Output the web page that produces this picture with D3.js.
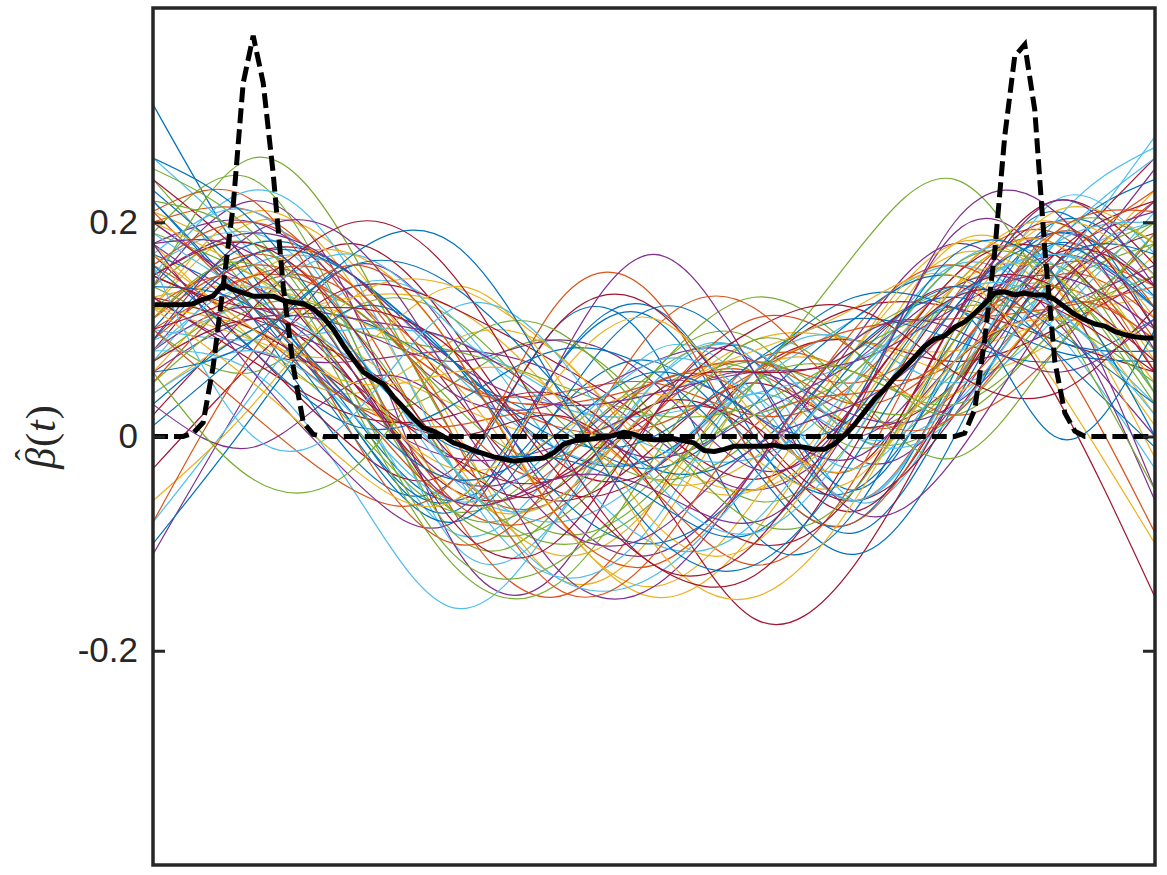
<!DOCTYPE html>
<html>
<head>
<meta charset="utf-8">
<script src="https://cdn.jsdelivr.net/npm/d3@7"></script>
<style>
    body { margin: 0; background: #fff; }
    svg { display: block; }
</style>
</head>
<body>
<svg width="1167" height="875"></svg>
<script>
// knots (t) where each estimated curve was read off
var knotT = [0, 0.1, 0.2, 0.3, 0.4, 0.5, 0.6, 0.7, 0.8, 0.9, 1.0];

// the thin coloured estimates, one row per curve
var curveValues = [
    [0.31, 0.15, 0.02, -0.06, 0.02, 0.07, -0.01, -0.05, 0.07, 0.18, 0.12],
    [0.20, 0.21, 0.12, -0.03, -0.06, 0.03, 0.06, 0.01, 0.04, 0.14, 0.22],
    [0.12, 0.20, 0.16, 0.01, -0.13, -0.09, 0.05, 0.09, 0.06, 0.09, 0.17],
    [-0.11, 0.05, 0.16, 0.09, -0.06, -0.11, -0.03, 0.09, 0.18, 0.11, 0.00],
    [0.24, 0.13, 0.03, 0.05, 0.09, 0.02, -0.06, 0.00, 0.14, 0.17, 0.04],
    [0.16, 0.19, 0.09, -0.10, -0.08, 0.05, 0.07, -0.06, 0.04, 0.20, 0.27],
    [0.08, 0.17, 0.15, 0.04, -0.05, -0.03, 0.06, 0.09, 0.07, 0.10, 0.15],
    [0.22, 0.11, -0.02, -0.04, 0.10, 0.08, -0.09, -0.07, 0.10, 0.21, 0.10],
    [0.05, 0.14, 0.13, 0.02, -0.04, 0.03, 0.11, 0.08, 0.02, 0.08, 0.19],
    [0.18, 0.09, 0.04, 0.09, 0.08, -0.02, -0.05, 0.05, 0.18, 0.14, -0.02],
    [0.14, 0.22, 0.12, -0.10, -0.13, 0.02, 0.08, -0.02, 0.03, 0.16, 0.21],
    [0.10, 0.06, 0.12, 0.11, 0.02, -0.04, 0.00, 0.09, 0.14, 0.16, 0.08],
    [0.26, 0.17, 0.04, -0.09, -0.03, 0.08, 0.04, -0.06, 0.06, 0.22, 0.17],
    [0.02, 0.12, 0.18, 0.10, -0.02, -0.03, 0.06, 0.12, 0.12, 0.09, 0.06],
    [0.17, 0.12, 0.01, -0.07, 0.06, 0.12, 0.00, -0.09, 0.03, 0.18, 0.24],
    [0.09, 0.15, 0.12, 0.05, 0.04, 0.05, 0.02, 0.05, 0.15, 0.19, 0.09],
    [0.21, 0.16, 0.08, 0.03, 0.00, 0.03, 0.09, 0.09, 0.08, 0.11, 0.13],
    [0.13, 0.08, 0.07, 0.08, 0.06, 0.00, -0.05, 0.01, 0.12, 0.19, 0.14],
    [0.19, 0.24, 0.09, -0.09, -0.07, 0.06, 0.09, 0.01, 0.06, 0.14, 0.18],
    [0.07, 0.16, 0.15, 0.06, -0.01, -0.02, 0.05, 0.11, 0.16, 0.10, -0.03],
    [0.15, 0.11, 0.07, 0.00, -0.06, -0.01, 0.05, 0.01, 0.05, 0.16, 0.26],
    [0.23, 0.14, 0.01, -0.06, 0.06, 0.11, -0.02, -0.08, 0.06, 0.20, 0.15],
    [0.11, 0.17, 0.10, -0.07, -0.15, -0.06, 0.07, 0.06, 0.07, 0.15, 0.11],
    [0.04, 0.10, 0.13, 0.12, 0.04, -0.04, -0.02, 0.08, 0.17, 0.13, 0.01],
    [0.18, 0.20, 0.13, 0.04, 0.03, 0.07, 0.07, 0.00, 0.09, 0.17, 0.12],
    [0.14, 0.09, 0.01, -0.07, -0.02, 0.06, 0.08, 0.00, 0.02, 0.12, 0.20],
    [-0.08, 0.04, 0.14, 0.11, -0.01, -0.10, -0.08, 0.05, 0.16, 0.12, 0.03],
    [0.20, 0.13, 0.05, -0.02, -0.04, 0.02, 0.01, -0.03, 0.11, 0.22, 0.16],
    [0.10, 0.18, 0.15, 0.07, -0.01, -0.02, 0.06, 0.13, 0.12, 0.08, 0.07],
    [0.16, 0.10, 0.03, 0.01, 0.02, -0.05, -0.12, -0.04, 0.13, 0.18, 0.06],
    [0.12, 0.21, 0.14, -0.02, -0.11, -0.06, 0.06, 0.06, 0.04, 0.13, 0.23],
    [0.06, 0.11, 0.10, 0.07, 0.09, 0.05, -0.03, 0.03, 0.19, 0.15, -0.05],
    [0.25, 0.19, 0.06, -0.07, -0.05, 0.04, 0.06, -0.01, 0.05, 0.15, 0.20],
    [0.09, 0.13, 0.17, 0.10, 0.03, 0.02, 0.04, 0.07, 0.13, 0.17, 0.12],
    [0.17, 0.08, -0.01, -0.03, 0.10, 0.12, 0.01, -0.06, 0.02, 0.14, 0.19],
    [0.03, 0.10, 0.11, 0.06, 0.01, -0.03, 0.03, 0.11, 0.15, 0.08, -0.01],
    [0.21, 0.22, 0.08, -0.06, -0.07, 0.02, 0.07, 0.03, 0.08, 0.16, 0.14],
    [0.13, 0.14, 0.11, 0.05, -0.07, -0.15, -0.09, 0.04, 0.15, 0.20, 0.11],
    [0.08, 0.12, 0.05, -0.04, -0.02, 0.05, 0.02, -0.02, 0.07, 0.12, 0.16],
    [0.19, 0.15, 0.10, 0.08, 0.05, 0.02, 0.03, 0.08, 0.12, 0.11, 0.05],
    [0.15, 0.23, 0.15, -0.03, -0.13, -0.08, 0.06, 0.09, 0.05, 0.11, 0.21],
    [-0.03, 0.07, 0.14, 0.12, 0.07, 0.01, -0.04, 0.03, 0.15, 0.17, 0.06],
    [0.22, 0.12, 0.00, -0.08, 0.02, 0.12, 0.06, -0.05, 0.08, 0.19, 0.13],
    [0.11, 0.16, 0.12, 0.05, 0.03, 0.05, 0.07, 0.05, 0.10, 0.14, 0.09],
    [0.06, 0.15, 0.17, 0.08, -0.07, -0.14, -0.06, 0.08, 0.18, 0.14, 0.02],
    [0.18, 0.11, 0.03, -0.02, -0.01, 0.03, 0.06, 0.02, 0.03, 0.13, 0.25],
    [0.14, 0.18, 0.07, -0.07, -0.08, 0.01, 0.07, 0.03, 0.05, 0.19, 0.18],
    [0.10, 0.09, 0.10, 0.09, 0.04, -0.01, -0.02, 0.05, 0.16, 0.16, 0.04],
    [0.24, 0.16, 0.05, -0.05, -0.04, 0.03, 0.00, -0.07, 0.04, 0.17, 0.22],
    [0.01, 0.09, 0.16, 0.14, 0.05, -0.03, -0.01, 0.08, 0.13, 0.09, 0.08],
    [0.16, 0.20, 0.14, 0.06, 0.01, 0.01, 0.06, 0.10, 0.11, 0.12, 0.14],
    [0.12, 0.10, 0.04, -0.03, 0.00, 0.04, -0.02, -0.04, 0.09, 0.21, 0.18],
    [0.20, 0.14, 0.11, 0.09, 0.03, -0.02, 0.02, 0.07, 0.14, 0.12, -0.06],
    [0.07, 0.13, 0.12, 0.03, -0.02, 0.06, 0.13, 0.08, 0.02, 0.10, 0.15],
    [0.17, 0.21, 0.10, -0.04, -0.06, 0.03, 0.04, -0.03, 0.07, 0.18, 0.20],
    [0.13, 0.07, 0.02, 0.02, 0.04, -0.03, -0.10, -0.05, 0.11, 0.20, 0.10],
    [0.09, 0.17, 0.15, 0.07, 0.00, 0.00, 0.07, 0.11, 0.09, 0.07, 0.11],
    [0.21, 0.12, 0.03, -0.06, -0.03, 0.05, 0.03, -0.06, 0.05, 0.16, 0.23],
    [-0.06, 0.03, 0.13, 0.14, 0.08, -0.01, -0.05, 0.02, 0.14, 0.18, 0.07],
    [0.15, 0.19, 0.15, 0.07, 0.03, 0.04, 0.06, 0.07, 0.12, 0.15, 0.10],
    [0.14, 0.26, 0.17, 0.00, -0.09, -0.05, 0.05, 0.06, 0.03, 0.10, 0.18],
    [0.08, 0.06, -0.05, -0.16, -0.08, 0.05, 0.08, 0.00, 0.02, 0.15, 0.20],
    [0.13, 0.10, 0.04, 0.00, 0.02, -0.05, -0.17, -0.12, 0.04, 0.17, 0.14],
    [0.16, 0.08, 0.01, 0.03, 0.08, 0.06, -0.03, -0.11, 0.00, 0.16, 0.17],
    [0.10, 0.02, -0.05, -0.04, 0.12, 0.13, -0.02, -0.08, 0.05, 0.19, 0.12],
    [0.12, 0.09, 0.08, 0.14, 0.06, -0.08, -0.10, 0.02, 0.14, 0.15, 0.05],
    [0.18, 0.06, -0.04, -0.08, 0.06, 0.17, 0.06, -0.07, -0.02, 0.12, 0.22],
    [0.05, 0.12, 0.10, -0.03, -0.10, -0.06, 0.05, 0.17, 0.24, 0.12, -0.05],
    [0.08, 0.14, 0.08, -0.03, -0.08, -0.03, 0.04, 0.00, 0.03, 0.15, 0.28],
    [0.15, 0.18, 0.10, -0.02, -0.05, 0.04, 0.06, 0.08, 0.14, 0.04, -0.15],
    [-0.10, 0.02, 0.12, 0.07, -0.05, -0.10, -0.04, 0.07, 0.14, 0.10, 0.03],
    [-0.08, 0.08, 0.16, 0.08, -0.07, -0.12, -0.03, 0.10, 0.16, 0.08, -0.09],
    [0.20, 0.15, 0.06, -0.05, -0.06, 0.03, 0.08, 0.12, 0.15, 0.05, -0.10],
    [0.03, -0.01, 0.05, 0.02, -0.12, -0.14, -0.03, 0.09, 0.10, 0.06, 0.11],
    [0.11, 0.16, 0.03, -0.12, -0.14, -0.02, 0.09, 0.04, -0.02, 0.08, 0.19],
    [0.19, 0.13, 0.07, -0.03, -0.13, -0.13, -0.04, 0.06, 0.13, 0.17, 0.13],
    [0.07, 0.11, 0.06, -0.08, -0.10, 0.02, 0.10, 0.12, 0.06, 0.04, 0.12],
    [0.14, 0.12, 0.03, -0.04, 0.00, 0.06, 0.02, 0.02, 0.12, 0.00, 0.10],
    [0.12, 0.14, 0.00, -0.10, -0.04, 0.10, 0.12, 0.03, 0.02, 0.12, 0.09],
    [0.17, 0.10, 0.05, 0.06, 0.04, -0.10, -0.15, -0.06, 0.10, 0.20, 0.15],
    [0.09, 0.19, 0.18, 0.05, -0.08, -0.09, -0.01, 0.03, 0.11, 0.22, 0.14],
    [0.22, 0.18, 0.04, -0.11, -0.12, -0.04, 0.02, 0.06, 0.16, 0.15, 0.03],
    [0.04, 0.08, 0.02, -0.06, -0.01, 0.07, 0.03, -0.06, 0.05, 0.18, 0.26],
    [0.15, 0.12, 0.12, 0.08, -0.03, -0.12, -0.13, -0.01, 0.13, 0.14, 0.07],
    [0.26, 0.20, 0.08, -0.01, -0.02, -0.06, -0.09, 0.03, 0.17, 0.15, 0.00],
    [0.10, 0.15, 0.14, 0.00, -0.14, -0.11, 0.01, 0.04, 0.08, 0.19, 0.21],
    [0.12, 0.05, -0.03, -0.06, 0.05, 0.11, 0.02, -0.03, 0.07, 0.11, 0.09],
    [0.18, 0.17, 0.06, -0.06, -0.04, -0.05, -0.08, 0.02, 0.20, 0.21, 0.08],
    [0.06, -0.04, -0.03, 0.08, 0.10, 0.01, -0.08, -0.05, 0.09, 0.14, 0.04],
    [0.16, 0.00, 0.02, 0.12, 0.08, -0.04, -0.09, 0.00, 0.13, 0.12, 0.02],
    [0.10, 0.14, 0.20, 0.15, 0.00, -0.12, -0.10, 0.03, 0.13, 0.12, 0.06],
    [0.06, 0.09, 0.17, 0.18, 0.05, -0.09, -0.12, -0.02, 0.12, 0.18, 0.12]
];

// thick solid line (average of the estimates), sampled every 0.01
var meanValues = [
    0.123, 0.123, 0.123, 0.123, 0.124, 0.128, 0.131, 0.142, 0.137, 0.134,
    0.131, 0.131, 0.131, 0.127, 0.125, 0.124, 0.119, 0.111, 0.100, 0.085,
    0.072, 0.060, 0.054, 0.049, 0.037, 0.027, 0.017, 0.008, 0.005, 0.000,
    -0.006, -0.009, -0.013, -0.016, -0.019, -0.021, -0.023, -0.022, -0.021, -0.020,
    -0.015, -0.007, -0.004, -0.003, -0.002, -0.001, 0.001, 0.004, 0.002, -0.002,
    -0.003, -0.003, -0.002, -0.004, -0.006, -0.013, -0.014, -0.012, -0.009, -0.009,
    -0.009, -0.009, -0.008, -0.010, -0.009, -0.010, -0.012, -0.012, -0.007, 0.001,
    0.011, 0.023, 0.035, 0.044, 0.055, 0.064, 0.074, 0.084, 0.091, 0.094,
    0.102, 0.107, 0.115, 0.124, 0.134, 0.135, 0.132, 0.134, 0.132, 0.132,
    0.128, 0.121, 0.114, 0.109, 0.105, 0.103, 0.098, 0.095, 0.093, 0.092, 0.092
];

// dashed line (true beta), same 0.01 sampling
var trueValues = [
    0, 0, 0, 0, 0.003, 0.013, 0.065, 0.140, 0.215, 0.330,
    0.374, 0.330, 0.245, 0.140, 0.065, 0.013, 0.002, 0, 0, 0,
    0, 0, 0, 0, 0, 0, 0, 0, 0, 0,
    0, 0, 0, 0, 0, 0, 0, 0, 0, 0,
    0, 0, 0, 0, 0, 0, 0, 0, 0, 0,
    0, 0, 0, 0, 0, 0, 0, 0, 0, 0,
    0, 0, 0, 0, 0, 0, 0, 0, 0, 0,
    0, 0, 0, 0, 0, 0, 0, 0, 0, 0,
    0, 0.003, 0.025, 0.090, 0.172, 0.280, 0.355, 0.366, 0.305, 0.175,
    0.070, 0.022, 0.005, 0, 0, 0, 0, 0, 0, 0, 0
];

var yTicks = [-0.2, 0, 0.2];
var palette = ['#0072BD', '#D95319', '#EDB120', '#7E2F8E', '#77AC30', '#4DBEEE', '#A2142F'];

var svg = d3.select('svg');
var svgWidth = +svg.attr('width');
var svgHeight = +svg.attr('height');

var padding = { t: 8, r: 12, b: 10, l: 153 };
var chartWidth = svgWidth - padding.l - padding.r;
var chartHeight = svgHeight - padding.t - padding.b;

var xScale = d3.scaleLinear().domain([0, 1]).range([padding.l, padding.l + chartWidth]);
var yScale = d3.scaleLinear().domain([-0.4, 0.4]).range([padding.t + chartHeight, padding.t]);

svg.append('defs').append('clipPath').attr('id', 'plotClip')
    .append('rect')
    .attr('x', padding.l)
    .attr('y', padding.t)
    .attr('width', chartWidth)
    .attr('height', chartHeight);

var plotG = svg.append('g').attr('clip-path', 'url(#plotClip)');

var knotLine = d3.line()
    .x((d, i) => xScale(knotT[i]))
    .y(d => yScale(d))
    .curve(d3.curveNatural);

plotG.selectAll('.fit')
    .data(curveValues)
    .enter()
    .append('path')
    .attr('class', 'fit')
    .attr('d', knotLine)
    .attr('fill', 'none')
    .attr('stroke', (d, i) => palette[i % palette.length])
    .attr('stroke-width', 1.2);

// sampled lines: index i sits at t = i / 100
var sampleLine = d3.line()
    .x((d, i) => xScale(i / 100))
    .y(d => yScale(d));

plotG.append('path')
    .datum(meanValues)
    .attr('d', sampleLine)
    .attr('fill', 'none')
    .attr('stroke', '#000')
    .attr('stroke-width', 5)
    .attr('stroke-linejoin', 'round');

plotG.append('path')
    .datum(trueValues)
    .attr('d', sampleLine)
    .attr('fill', 'none')
    .attr('stroke', '#000')
    .attr('stroke-width', 5)
    .attr('stroke-dasharray', '15,6');

// axes
var yAxis = svg.append('g')
    .attr('class', 'y axis')
    .attr('transform', `translate(${padding.l}, 0)`)
    .style('color', '#262626')
    .call(d3.axisLeft(yScale)
        .tickValues(yTicks)
        .tickSize(-12)
        .tickPadding(15)
        .tickFormat(d => d === 0 ? '0' : d.toFixed(1)));

yAxis.select('.domain').remove();
yAxis.selectAll('.tick line').attr('stroke-width', 3);
yAxis.selectAll('.tick text')
    .attr('font-family', '"Liberation Sans", Arial, Helvetica, sans-serif')
    .attr('font-size', 35);

var yAxisRight = svg.append('g')
    .attr('transform', `translate(${padding.l + chartWidth}, 0)`)
    .style('color', '#262626')
    .call(d3.axisRight(yScale).tickValues(yTicks).tickSize(-12).tickFormat(''));

yAxisRight.select('.domain').remove();
yAxisRight.selectAll('.tick line').attr('stroke-width', 3);

svg.append('rect')
    .attr('x', padding.l)
    .attr('y', padding.t)
    .attr('width', chartWidth)
    .attr('height', chartHeight)
    .attr('fill', 'none')
    .attr('stroke', '#262626')
    .attr('stroke-width', 3.5);

// y label: beta-hat(t), hat drawn as its own glyph over the beta
var labelG = svg.append('g')
    .attr('transform', `translate(55, ${yScale(0)}) rotate(-90)`)
    .attr('font-family', '"Liberation Serif", "DejaVu Serif", serif')
    .attr('fill', '#262626');

var yLabel = labelG.append('text')
    .attr('text-anchor', 'middle')
    .attr('font-size', 42)
    .attr('letter-spacing', 1);

var betaSpan = yLabel.append('tspan').attr('font-style', 'italic').text('\u03B2');
yLabel.append('tspan').text('(');
yLabel.append('tspan').attr('font-style', 'italic').text('t');
yLabel.append('tspan').text(')');

var labelBox = yLabel.node().getBBox();
var betaWidth = betaSpan.node().getComputedTextLength();

labelG.append('text')
    .attr('text-anchor', 'middle')
    .attr('font-size', 34)
    .attr('x', labelBox.x + betaWidth / 2 + 4)
    .attr('y', -16)
    .text('\u02C6');
</script>
</body>
</html>
